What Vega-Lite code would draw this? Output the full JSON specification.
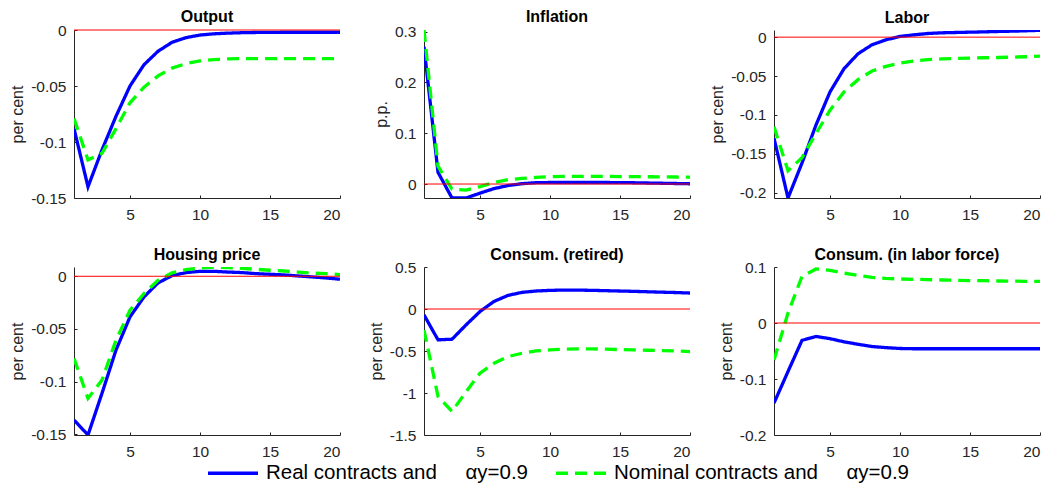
{
 "$schema": "https://vega.github.io/schema/vega-lite/v6.json",
 "padding": {"left": 9, "top": 8, "right": 5, "bottom": 5},
 "background": "#ffffff",
 "config": {
  "view": {"stroke": null},
  "font": "Liberation Sans",
  "axis": {"domainColor": "#262626", "domainWidth": 1, "labelColor": "#262626", "labelFont": "Liberation Sans", "labelFontSize": 15.5, "titleFont": "Liberation Sans", "titleFontSize": 16, "titleFontWeight": "normal", "titleColor": "#262626", "grid": false, "tickColor": "#262626", "tickSize": -3},
  "axisX": {"labelPadding": 12},
  "axisY": {"labelPadding": 11, "titlePadding": 5},
  "title": {"fontSize": 16, "fontWeight": "bold", "color": "#000000", "anchor": "middle", "font": "Liberation Sans"},
  "legend": {"orient": "none", "legendX": 132, "legendY": 416, "direction": "horizontal", "symbolType": "stroke", "symbolSize": 2500, "symbolStrokeWidth": 3.3, "labelFontSize": 20.5, "labelFont": "Liberation Sans", "labelColor": "#000000", "labelOffset": 6, "columnPadding": 21, "labelLimit": 0, "title": null}
 },
 "datasets": {
  "d": [
   {"p":"Output","s":"Real","t":1,"v":-0.088},{"p":"Output","s":"Real","t":2,"v":-0.140},{"p":"Output","s":"Real","t":3,"v":-0.107},{"p":"Output","s":"Real","t":4,"v":-0.077},{"p":"Output","s":"Real","t":5,"v":-0.050},{"p":"Output","s":"Real","t":6,"v":-0.031},{"p":"Output","s":"Real","t":7,"v":-0.019},{"p":"Output","s":"Real","t":8,"v":-0.011},{"p":"Output","s":"Real","t":9,"v":-0.0068},{"p":"Output","s":"Real","t":10,"v":-0.0045},{"p":"Output","s":"Real","t":11,"v":-0.0034},{"p":"Output","s":"Real","t":12,"v":-0.0028},{"p":"Output","s":"Real","t":13,"v":-0.0024},{"p":"Output","s":"Real","t":14,"v":-0.0022},{"p":"Output","s":"Real","t":15,"v":-0.0021},{"p":"Output","s":"Real","t":16,"v":-0.002},{"p":"Output","s":"Real","t":17,"v":-0.002},{"p":"Output","s":"Real","t":18,"v":-0.002},{"p":"Output","s":"Real","t":19,"v":-0.002},{"p":"Output","s":"Real","t":20,"v":-0.002},
   {"p":"Output","s":"Nominal","t":1,"v":-0.079},{"p":"Output","s":"Nominal","t":2,"v":-0.116},{"p":"Output","s":"Nominal","t":3,"v":-0.110},{"p":"Output","s":"Nominal","t":4,"v":-0.088},{"p":"Output","s":"Nominal","t":5,"v":-0.065},{"p":"Output","s":"Nominal","t":6,"v":-0.051},{"p":"Output","s":"Nominal","t":7,"v":-0.041},{"p":"Output","s":"Nominal","t":8,"v":-0.034},{"p":"Output","s":"Nominal","t":9,"v":-0.030},{"p":"Output","s":"Nominal","t":10,"v":-0.0276},{"p":"Output","s":"Nominal","t":11,"v":-0.0264},{"p":"Output","s":"Nominal","t":12,"v":-0.0258},{"p":"Output","s":"Nominal","t":13,"v":-0.0256},{"p":"Output","s":"Nominal","t":14,"v":-0.0255},{"p":"Output","s":"Nominal","t":15,"v":-0.0255},{"p":"Output","s":"Nominal","t":16,"v":-0.0255},{"p":"Output","s":"Nominal","t":17,"v":-0.0255},{"p":"Output","s":"Nominal","t":18,"v":-0.0255},{"p":"Output","s":"Nominal","t":19,"v":-0.0255},{"p":"Output","s":"Nominal","t":20,"v":-0.0255},
   {"p":"Inflation","s":"Real","t":1,"v":0.270},{"p":"Inflation","s":"Real","t":2,"v":0.023},{"p":"Inflation","s":"Real","t":3,"v":-0.0275},{"p":"Inflation","s":"Real","t":4,"v":-0.0275},{"p":"Inflation","s":"Real","t":5,"v":-0.018},{"p":"Inflation","s":"Real","t":6,"v":-0.009},{"p":"Inflation","s":"Real","t":7,"v":-0.003},{"p":"Inflation","s":"Real","t":8,"v":0.0007},{"p":"Inflation","s":"Real","t":9,"v":0.0026},{"p":"Inflation","s":"Real","t":10,"v":0.003},{"p":"Inflation","s":"Real","t":11,"v":0.003},{"p":"Inflation","s":"Real","t":12,"v":0.003},{"p":"Inflation","s":"Real","t":13,"v":0.003},{"p":"Inflation","s":"Real","t":14,"v":0.003},{"p":"Inflation","s":"Real","t":15,"v":0.0028},{"p":"Inflation","s":"Real","t":16,"v":0.0025},{"p":"Inflation","s":"Real","t":17,"v":0.002},{"p":"Inflation","s":"Real","t":18,"v":0.0015},{"p":"Inflation","s":"Real","t":19,"v":0.001},{"p":"Inflation","s":"Real","t":20,"v":0.0005},
   {"p":"Inflation","s":"Nominal","t":1,"v":0.303},{"p":"Inflation","s":"Nominal","t":2,"v":0.035},{"p":"Inflation","s":"Nominal","t":3,"v":-0.010},{"p":"Inflation","s":"Nominal","t":4,"v":-0.012},{"p":"Inflation","s":"Nominal","t":5,"v":-0.005},{"p":"Inflation","s":"Nominal","t":6,"v":0.003},{"p":"Inflation","s":"Nominal","t":7,"v":0.0085},{"p":"Inflation","s":"Nominal","t":8,"v":0.011},{"p":"Inflation","s":"Nominal","t":9,"v":0.013},{"p":"Inflation","s":"Nominal","t":10,"v":0.0144},{"p":"Inflation","s":"Nominal","t":11,"v":0.015},{"p":"Inflation","s":"Nominal","t":12,"v":0.015},{"p":"Inflation","s":"Nominal","t":13,"v":0.015},{"p":"Inflation","s":"Nominal","t":14,"v":0.015},{"p":"Inflation","s":"Nominal","t":15,"v":0.0147},{"p":"Inflation","s":"Nominal","t":16,"v":0.0145},{"p":"Inflation","s":"Nominal","t":17,"v":0.0143},{"p":"Inflation","s":"Nominal","t":18,"v":0.014},{"p":"Inflation","s":"Nominal","t":19,"v":0.0138},{"p":"Inflation","s":"Nominal","t":20,"v":0.0136},
   {"p":"Labor","s":"Real","t":1,"v":-0.130},{"p":"Labor","s":"Real","t":2,"v":-0.207},{"p":"Labor","s":"Real","t":3,"v":-0.162},{"p":"Labor","s":"Real","t":4,"v":-0.113},{"p":"Labor","s":"Real","t":5,"v":-0.0705},{"p":"Labor","s":"Real","t":6,"v":-0.0406},{"p":"Labor","s":"Real","t":7,"v":-0.0214},{"p":"Labor","s":"Real","t":8,"v":-0.0098},{"p":"Labor","s":"Real","t":9,"v":-0.0034},{"p":"Labor","s":"Real","t":10,"v":0.0009},{"p":"Labor","s":"Real","t":11,"v":0.003},{"p":"Labor","s":"Real","t":12,"v":0.0047},{"p":"Labor","s":"Real","t":13,"v":0.0056},{"p":"Labor","s":"Real","t":14,"v":0.006},{"p":"Labor","s":"Real","t":15,"v":0.0064},{"p":"Labor","s":"Real","t":16,"v":0.0068},{"p":"Labor","s":"Real","t":17,"v":0.0073},{"p":"Labor","s":"Real","t":18,"v":0.0077},{"p":"Labor","s":"Real","t":19,"v":0.0082},{"p":"Labor","s":"Real","t":20,"v":0.0088},
   {"p":"Labor","s":"Nominal","t":1,"v":-0.1154},{"p":"Labor","s":"Nominal","t":2,"v":-0.172},{"p":"Labor","s":"Nominal","t":3,"v":-0.155},{"p":"Labor","s":"Nominal","t":4,"v":-0.124},{"p":"Labor","s":"Nominal","t":5,"v":-0.094},{"p":"Labor","s":"Nominal","t":6,"v":-0.0705},{"p":"Labor","s":"Nominal","t":7,"v":-0.0547},{"p":"Labor","s":"Nominal","t":8,"v":-0.0436},{"p":"Labor","s":"Nominal","t":9,"v":-0.0376},{"p":"Labor","s":"Nominal","t":10,"v":-0.0333},{"p":"Labor","s":"Nominal","t":11,"v":-0.0308},{"p":"Labor","s":"Nominal","t":12,"v":-0.029},{"p":"Labor","s":"Nominal","t":13,"v":-0.028},{"p":"Labor","s":"Nominal","t":14,"v":-0.0274},{"p":"Labor","s":"Nominal","t":15,"v":-0.0269},{"p":"Labor","s":"Nominal","t":16,"v":-0.0265},{"p":"Labor","s":"Nominal","t":17,"v":-0.0262},{"p":"Labor","s":"Nominal","t":18,"v":-0.0257},{"p":"Labor","s":"Nominal","t":19,"v":-0.0252},{"p":"Labor","s":"Nominal","t":20,"v":-0.0244},
   {"p":"Housing price","s":"Real","t":1,"v":-0.1364},{"p":"Housing price","s":"Real","t":2,"v":-0.1506},{"p":"Housing price","s":"Real","t":3,"v":-0.111},{"p":"Housing price","s":"Real","t":4,"v":-0.070},{"p":"Housing price","s":"Real","t":5,"v":-0.0385},{"p":"Housing price","s":"Real","t":6,"v":-0.0196},{"p":"Housing price","s":"Real","t":7,"v":-0.0063},{"p":"Housing price","s":"Real","t":8,"v":0.0006},{"p":"Housing price","s":"Real","t":9,"v":0.0035},{"p":"Housing price","s":"Real","t":10,"v":0.0047},{"p":"Housing price","s":"Real","t":11,"v":0.0047},{"p":"Housing price","s":"Real","t":12,"v":0.004},{"p":"Housing price","s":"Real","t":13,"v":0.0035},{"p":"Housing price","s":"Real","t":14,"v":0.0025},{"p":"Housing price","s":"Real","t":15,"v":0.0019},{"p":"Housing price","s":"Real","t":16,"v":0.0013},{"p":"Housing price","s":"Real","t":17,"v":0.0003},{"p":"Housing price","s":"Real","t":18,"v":-0.0006},{"p":"Housing price","s":"Real","t":19,"v":-0.0016},{"p":"Housing price","s":"Real","t":20,"v":-0.0028},
   {"p":"Housing price","s":"Nominal","t":1,"v":-0.078},{"p":"Housing price","s":"Nominal","t":2,"v":-0.1159},{"p":"Housing price","s":"Nominal","t":3,"v":-0.0985},{"p":"Housing price","s":"Nominal","t":4,"v":-0.0606},{"p":"Housing price","s":"Nominal","t":5,"v":-0.0322},{"p":"Housing price","s":"Nominal","t":6,"v":-0.0164},{"p":"Housing price","s":"Nominal","t":7,"v":-0.0038},{"p":"Housing price","s":"Nominal","t":8,"v":0.0032},{"p":"Housing price","s":"Nominal","t":9,"v":0.0063},{"p":"Housing price","s":"Nominal","t":10,"v":0.0079},{"p":"Housing price","s":"Nominal","t":11,"v":0.0086},{"p":"Housing price","s":"Nominal","t":12,"v":0.0082},{"p":"Housing price","s":"Nominal","t":13,"v":0.0076},{"p":"Housing price","s":"Nominal","t":14,"v":0.0066},{"p":"Housing price","s":"Nominal","t":15,"v":0.0057},{"p":"Housing price","s":"Nominal","t":16,"v":0.005},{"p":"Housing price","s":"Nominal","t":17,"v":0.004},{"p":"Housing price","s":"Nominal","t":18,"v":0.003},{"p":"Housing price","s":"Nominal","t":19,"v":0.0025},{"p":"Housing price","s":"Nominal","t":20,"v":0.0016},
   {"p":"Consum. (retired)","s":"Real","t":1,"v":-0.07},{"p":"Consum. (retired)","s":"Real","t":2,"v":-0.367},{"p":"Consum. (retired)","s":"Real","t":3,"v":-0.36},{"p":"Consum. (retired)","s":"Real","t":4,"v":-0.19},{"p":"Consum. (retired)","s":"Real","t":5,"v":-0.03},{"p":"Consum. (retired)","s":"Real","t":6,"v":0.09},{"p":"Consum. (retired)","s":"Real","t":7,"v":0.162},{"p":"Consum. (retired)","s":"Real","t":8,"v":0.198},{"p":"Consum. (retired)","s":"Real","t":9,"v":0.214},{"p":"Consum. (retired)","s":"Real","t":10,"v":0.222},{"p":"Consum. (retired)","s":"Real","t":11,"v":0.225},{"p":"Consum. (retired)","s":"Real","t":12,"v":0.225},{"p":"Consum. (retired)","s":"Real","t":13,"v":0.222},{"p":"Consum. (retired)","s":"Real","t":14,"v":0.218},{"p":"Consum. (retired)","s":"Real","t":15,"v":0.214},{"p":"Consum. (retired)","s":"Real","t":16,"v":0.21},{"p":"Consum. (retired)","s":"Real","t":17,"v":0.205},{"p":"Consum. (retired)","s":"Real","t":18,"v":0.2},{"p":"Consum. (retired)","s":"Real","t":19,"v":0.196},{"p":"Consum. (retired)","s":"Real","t":20,"v":0.19},
   {"p":"Consum. (retired)","s":"Nominal","t":1,"v":-0.25},{"p":"Consum. (retired)","s":"Nominal","t":2,"v":-1.04},{"p":"Consum. (retired)","s":"Nominal","t":3,"v":-1.22},{"p":"Consum. (retired)","s":"Nominal","t":4,"v":-0.985},{"p":"Consum. (retired)","s":"Nominal","t":5,"v":-0.765},{"p":"Consum. (retired)","s":"Nominal","t":6,"v":-0.646},{"p":"Consum. (retired)","s":"Nominal","t":7,"v":-0.566},{"p":"Consum. (retired)","s":"Nominal","t":8,"v":-0.527},{"p":"Consum. (retired)","s":"Nominal","t":9,"v":-0.499},{"p":"Consum. (retired)","s":"Nominal","t":10,"v":-0.487},{"p":"Consum. (retired)","s":"Nominal","t":11,"v":-0.479},{"p":"Consum. (retired)","s":"Nominal","t":12,"v":-0.475},{"p":"Consum. (retired)","s":"Nominal","t":13,"v":-0.475},{"p":"Consum. (retired)","s":"Nominal","t":14,"v":-0.478},{"p":"Consum. (retired)","s":"Nominal","t":15,"v":-0.483},{"p":"Consum. (retired)","s":"Nominal","t":16,"v":-0.487},{"p":"Consum. (retired)","s":"Nominal","t":17,"v":-0.491},{"p":"Consum. (retired)","s":"Nominal","t":18,"v":-0.495},{"p":"Consum. (retired)","s":"Nominal","t":19,"v":-0.499},{"p":"Consum. (retired)","s":"Nominal","t":20,"v":-0.507},
   {"p":"Consum. (in labor force)","s":"Real","t":1,"v":-0.143},{"p":"Consum. (in labor force)","s":"Real","t":2,"v":-0.0866},{"p":"Consum. (in labor force)","s":"Real","t":3,"v":-0.031},{"p":"Consum. (in labor force)","s":"Real","t":4,"v":-0.024},{"p":"Consum. (in labor force)","s":"Real","t":5,"v":-0.028},{"p":"Consum. (in labor force)","s":"Real","t":6,"v":-0.0336},{"p":"Consum. (in labor force)","s":"Real","t":7,"v":-0.038},{"p":"Consum. (in labor force)","s":"Real","t":8,"v":-0.042},{"p":"Consum. (in labor force)","s":"Real","t":9,"v":-0.044},{"p":"Consum. (in labor force)","s":"Real","t":10,"v":-0.0455},{"p":"Consum. (in labor force)","s":"Real","t":11,"v":-0.046},{"p":"Consum. (in labor force)","s":"Real","t":12,"v":-0.046},{"p":"Consum. (in labor force)","s":"Real","t":13,"v":-0.046},{"p":"Consum. (in labor force)","s":"Real","t":14,"v":-0.046},{"p":"Consum. (in labor force)","s":"Real","t":15,"v":-0.046},{"p":"Consum. (in labor force)","s":"Real","t":16,"v":-0.046},{"p":"Consum. (in labor force)","s":"Real","t":17,"v":-0.046},{"p":"Consum. (in labor force)","s":"Real","t":18,"v":-0.046},{"p":"Consum. (in labor force)","s":"Real","t":19,"v":-0.046},{"p":"Consum. (in labor force)","s":"Real","t":20,"v":-0.046},
   {"p":"Consum. (in labor force)","s":"Nominal","t":1,"v":-0.066},{"p":"Consum. (in labor force)","s":"Nominal","t":2,"v":0.0177},{"p":"Consum. (in labor force)","s":"Nominal","t":3,"v":0.0833},{"p":"Consum. (in labor force)","s":"Nominal","t":4,"v":0.0965},{"p":"Consum. (in labor force)","s":"Nominal","t":5,"v":0.094},{"p":"Consum. (in labor force)","s":"Nominal","t":6,"v":0.089},{"p":"Consum. (in labor force)","s":"Nominal","t":7,"v":0.085},{"p":"Consum. (in labor force)","s":"Nominal","t":8,"v":0.0815},{"p":"Consum. (in labor force)","s":"Nominal","t":9,"v":0.0797},{"p":"Consum. (in labor force)","s":"Nominal","t":10,"v":0.0786},{"p":"Consum. (in labor force)","s":"Nominal","t":11,"v":0.078},{"p":"Consum. (in labor force)","s":"Nominal","t":12,"v":0.0774},{"p":"Consum. (in labor force)","s":"Nominal","t":13,"v":0.0768},{"p":"Consum. (in labor force)","s":"Nominal","t":14,"v":0.0762},{"p":"Consum. (in labor force)","s":"Nominal","t":15,"v":0.0758},{"p":"Consum. (in labor force)","s":"Nominal","t":16,"v":0.0755},{"p":"Consum. (in labor force)","s":"Nominal","t":17,"v":0.075},{"p":"Consum. (in labor force)","s":"Nominal","t":18,"v":0.0748},{"p":"Consum. (in labor force)","s":"Nominal","t":19,"v":0.0744},{"p":"Consum. (in labor force)","s":"Nominal","t":20,"v":0.0742}
  ],
  "zero": [{"z": 0}]
 },
 "columns": 3,
 "spacing": {"row": 69, "column": 84},
 "bounds": "flush",
 "resolve": {"scale": {"color": "shared", "strokeDash": "shared"}},
 "concat": [
  {"title": {"text": "Output", "offset": -2}, "width": 266, "height": 168,
   "layer": [
    {"data": {"name": "d"}, "transform": [{"filter": "datum.p === 'Output' && datum.s === 'Real'"}], "mark": {"type": "line", "strokeWidth": 3.3, "clip": true},
     "encoding": {"x": {"field": "t", "type": "quantitative", "scale": {"domain": [1, 20], "nice": false}, "axis": {"values": [5, 10, 15, 20], "title": null}},
      "y": {"field": "v", "type": "quantitative", "scale": {"domain": [-0.15, 0], "nice": false, "zero": false}, "axis": {"values": [-0.15, -0.1, -0.05, 0], "labelExpr": "'' + datum.value", "title": "per cent"}},
      "color": {"field": "s", "type": "nominal", "scale": {"domain": ["Real", "Nominal"], "range": ["#0000ff", "#00ff00"]}, "legend": {"labelExpr": "datum.label === 'Real' ? 'Real contracts and\u00a0\u00a0\u00a0\u00a0\u00a0αy=0.9' : 'Nominal contracts and\u00a0\u00a0\u00a0\u00a0\u00a0αy=0.9'"}},
      "strokeDash": {"field": "s", "type": "nominal", "scale": {"domain": ["Real", "Nominal"], "range": [[1, 0], [12, 7]]}}}},
    {"data": {"name": "d"}, "transform": [{"filter": "datum.p === 'Output' && datum.s === 'Nominal'"}], "mark": {"type": "line", "strokeWidth": 3.3, "clip": true},
     "encoding": {"x": {"field": "t", "type": "quantitative"}, "y": {"field": "v", "type": "quantitative"},
      "color": {"field": "s", "type": "nominal"}, "strokeDash": {"field": "s", "type": "nominal"}}},
    {"data": {"name": "zero"}, "mark": {"type": "rule", "color": "#ff0000", "strokeWidth": 1}, "encoding": {"y": {"field": "z", "type": "quantitative"}}}
   ]},
  {"title": {"text": "Inflation", "offset": 0}, "width": 266, "height": 168,
   "layer": [
    {"data": {"name": "d"}, "transform": [{"filter": "datum.p === 'Inflation' && datum.s === 'Real'"}], "mark": {"type": "line", "strokeWidth": 3.3, "clip": true},
     "encoding": {"x": {"field": "t", "type": "quantitative", "scale": {"domain": [1, 20], "nice": false}, "axis": {"values": [5, 10, 15, 20], "title": null}},
      "y": {"field": "v", "type": "quantitative", "scale": {"domain": [-0.0275, 0.303], "nice": false, "zero": false}, "axis": {"values": [0, 0.1, 0.2, 0.3], "labelExpr": "'' + datum.value", "title": "p.p."}},
      "color": {"field": "s", "type": "nominal"}, "strokeDash": {"field": "s", "type": "nominal"}}},
    {"data": {"name": "d"}, "transform": [{"filter": "datum.p === 'Inflation' && datum.s === 'Nominal'"}], "mark": {"type": "line", "strokeWidth": 3.3, "clip": true},
     "encoding": {"x": {"field": "t", "type": "quantitative"}, "y": {"field": "v", "type": "quantitative"},
      "color": {"field": "s", "type": "nominal"}, "strokeDash": {"field": "s", "type": "nominal"}}},
    {"data": {"name": "zero"}, "mark": {"type": "rule", "color": "#ff0000", "strokeWidth": 1}, "encoding": {"y": {"field": "z", "type": "quantitative"}}}
   ]},
  {"title": {"text": "Labor", "offset": 4}, "width": 266, "height": 168,
   "layer": [
    {"data": {"name": "d"}, "transform": [{"filter": "datum.p === 'Labor' && datum.s === 'Real'"}], "mark": {"type": "line", "strokeWidth": 3.3, "clip": true},
     "encoding": {"x": {"field": "t", "type": "quantitative", "scale": {"domain": [1, 20], "nice": false}, "axis": {"values": [5, 10, 15, 20], "title": null}},
      "y": {"field": "v", "type": "quantitative", "scale": {"domain": [-0.207, 0.0092], "nice": false, "zero": false}, "axis": {"values": [-0.2, -0.15, -0.1, -0.05, 0], "labelExpr": "'' + datum.value", "title": "per cent"}},
      "color": {"field": "s", "type": "nominal"}, "strokeDash": {"field": "s", "type": "nominal"}}},
    {"data": {"name": "d"}, "transform": [{"filter": "datum.p === 'Labor' && datum.s === 'Nominal'"}], "mark": {"type": "line", "strokeWidth": 3.3, "clip": true},
     "encoding": {"x": {"field": "t", "type": "quantitative"}, "y": {"field": "v", "type": "quantitative"},
      "color": {"field": "s", "type": "nominal"}, "strokeDash": {"field": "s", "type": "nominal"}}},
    {"data": {"name": "zero"}, "mark": {"type": "rule", "color": "#ff0000", "strokeWidth": 1}, "encoding": {"y": {"field": "z", "type": "quantitative"}}}
   ]},
  {"title": {"text": "Housing price", "offset": 4}, "width": 266, "height": 168,
   "layer": [
    {"data": {"name": "d"}, "transform": [{"filter": "datum.p === 'Housing price' && datum.s === 'Real'"}], "mark": {"type": "line", "strokeWidth": 3.3, "clip": true},
     "encoding": {"x": {"field": "t", "type": "quantitative", "scale": {"domain": [1, 20], "nice": false}, "axis": {"values": [5, 10, 15, 20], "title": null}},
      "y": {"field": "v", "type": "quantitative", "scale": {"domain": [-0.1506, 0.0088], "nice": false, "zero": false}, "axis": {"values": [-0.15, -0.1, -0.05, 0], "labelExpr": "'' + datum.value", "title": "per cent"}},
      "color": {"field": "s", "type": "nominal"}, "strokeDash": {"field": "s", "type": "nominal"}}},
    {"data": {"name": "d"}, "transform": [{"filter": "datum.p === 'Housing price' && datum.s === 'Nominal'"}], "mark": {"type": "line", "strokeWidth": 3.3, "clip": true},
     "encoding": {"x": {"field": "t", "type": "quantitative"}, "y": {"field": "v", "type": "quantitative"},
      "color": {"field": "s", "type": "nominal"}, "strokeDash": {"field": "s", "type": "nominal"}}},
    {"data": {"name": "zero"}, "mark": {"type": "rule", "color": "#ff0000", "strokeWidth": 1}, "encoding": {"y": {"field": "z", "type": "quantitative"}}}
   ]},
  {"title": {"text": "Consum. (retired)", "offset": -3}, "width": 266, "height": 168,
   "layer": [
    {"data": {"name": "d"}, "transform": [{"filter": "datum.p === 'Consum. (retired)' && datum.s === 'Real'"}], "mark": {"type": "line", "strokeWidth": 3.3, "clip": true},
     "encoding": {"x": {"field": "t", "type": "quantitative", "scale": {"domain": [1, 20], "nice": false}, "axis": {"values": [5, 10, 15, 20], "title": null}},
      "y": {"field": "v", "type": "quantitative", "scale": {"domain": [-1.5, 0.5], "nice": false, "zero": false}, "axis": {"values": [-1.5, -1, -0.5, 0, 0.5], "labelExpr": "'' + datum.value", "title": "per cent"}},
      "color": {"field": "s", "type": "nominal"}, "strokeDash": {"field": "s", "type": "nominal"}}},
    {"data": {"name": "d"}, "transform": [{"filter": "datum.p === 'Consum. (retired)' && datum.s === 'Nominal'"}], "mark": {"type": "line", "strokeWidth": 3.3, "clip": true},
     "encoding": {"x": {"field": "t", "type": "quantitative"}, "y": {"field": "v", "type": "quantitative"},
      "color": {"field": "s", "type": "nominal"}, "strokeDash": {"field": "s", "type": "nominal"}}},
    {"data": {"name": "zero"}, "mark": {"type": "rule", "color": "#ff0000", "strokeWidth": 1}, "encoding": {"y": {"field": "z", "type": "quantitative"}}}
   ]},
  {"title": {"text": "Consum. (in labor force)", "offset": -3}, "width": 266, "height": 168,
   "layer": [
    {"data": {"name": "d"}, "transform": [{"filter": "datum.p === 'Consum. (in labor force)' && datum.s === 'Real'"}], "mark": {"type": "line", "strokeWidth": 3.3, "clip": true},
     "encoding": {"x": {"field": "t", "type": "quantitative", "scale": {"domain": [1, 20], "nice": false}, "axis": {"values": [5, 10, 15, 20], "title": null}},
      "y": {"field": "v", "type": "quantitative", "scale": {"domain": [-0.2, 0.1], "nice": false, "zero": false}, "axis": {"values": [-0.2, -0.1, 0, 0.1], "labelExpr": "'' + datum.value", "title": "per cent"}},
      "color": {"field": "s", "type": "nominal"}, "strokeDash": {"field": "s", "type": "nominal"}}},
    {"data": {"name": "d"}, "transform": [{"filter": "datum.p === 'Consum. (in labor force)' && datum.s === 'Nominal'"}], "mark": {"type": "line", "strokeWidth": 3.3, "clip": true},
     "encoding": {"x": {"field": "t", "type": "quantitative"}, "y": {"field": "v", "type": "quantitative"},
      "color": {"field": "s", "type": "nominal"}, "strokeDash": {"field": "s", "type": "nominal"}}},
    {"data": {"name": "zero"}, "mark": {"type": "rule", "color": "#ff0000", "strokeWidth": 1}, "encoding": {"y": {"field": "z", "type": "quantitative"}}}
   ]}
 ]
}
